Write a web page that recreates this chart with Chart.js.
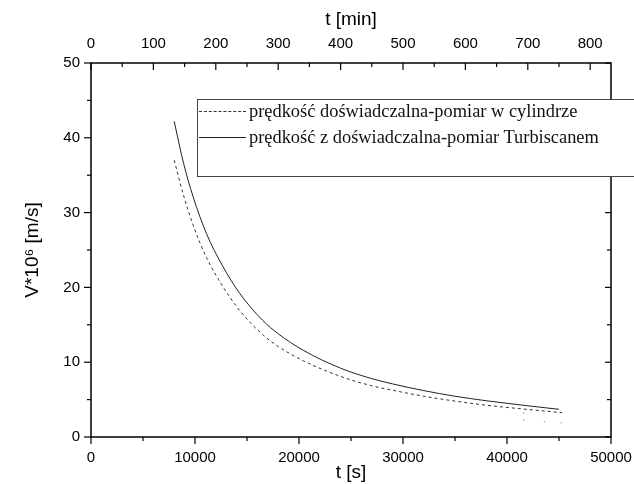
<!DOCTYPE html>
<html><head><meta charset="utf-8">
<script src="https://cdn.jsdelivr.net/npm/chart.js@4.4.0/dist/chart.umd.min.js"></script>
<style>
html,body{margin:0;padding:0;background:#fff;overflow:hidden;}
#wrap{position:relative;width:634px;height:484px;overflow:hidden;}
#legend{position:absolute;left:197px;top:99px;width:470px;height:76px;border:1px solid #444;background:#fff;font-family:"Liberation Serif","Times New Roman",serif;font-size:18.4px;color:#111;}
.row{position:absolute;left:0;height:26px;line-height:26px;white-space:nowrap;}
.sample{position:absolute;left:1px;width:47px;top:13px;height:0;}
.txt{position:absolute;left:51px;top:0;}
</style></head><body>
<div id="wrap"><canvas id="c" width="634" height="484"></canvas>
<div id="legend">
<div class="row" style="top:-2px"><div class="sample" style="border-top:1px dashed #333"></div><span class="txt" id="l1"></span></div>
<div class="row" style="top:24px"><div class="sample" style="border-top:1px solid #222"></div><span class="txt" id="l2"></span></div>
</div></div>
<script>
// ---- data ----
const seriesNames = ["prędkość doświadczalna-pomiar w cylindrze", "prędkość z doświadczalna-pomiar Turbiscanem"];
const tCyl = [8000, 8900, 9800, 11100, 12600, 14300, 16500, 18000, 20400, 24000, 27000, 29000, 32000, 35000, 38000, 41500, 45300];
const vCyl = [37.0, 32.3, 28.4, 24.0, 20.3, 16.9, 13.7, 12.1, 10.2, 8.1, 6.85, 6.25, 5.45, 4.8, 4.25, 3.75, 3.25];
const tTurb = [8000, 8900, 9800, 11100, 12600, 14300, 16500, 18000, 20400, 24000, 27000, 29000, 32000, 35000, 38000, 41500, 45000];
const vTurb = [42.2, 36.6, 32.2, 27.2, 23.0, 19.2, 15.6, 13.8, 11.6, 9.2, 7.8, 7.1, 6.2, 5.45, 4.85, 4.25, 3.7];
const tStray = [41600, 41600, 43600, 45200];
const vStray = [3.2, 2.3, 2.05, 1.9];
const xTicksS = [0, 10000, 20000, 30000, 40000, 50000];
const xMinorS = [5000, 15000, 25000, 35000, 45000];
const xTicksMin = [0, 100, 200, 300, 400, 500, 600, 700, 800];
const xMinorMin = [50, 150, 250, 350, 450, 550, 650, 750];
const yTicks = [0, 10, 20, 30, 40, 50];
const yMinor = [5, 15, 25, 35, 45];

document.getElementById('l1').textContent = seriesNames[0];
document.getElementById('l2').textContent = seriesNames[1];

const pts = (xs, ys) => xs.map((x, i) => ({x: x, y: ys[i]}));
const tickFont = {family: "'Liberation Sans', Arial, sans-serif", size: 15};
const titleFont = {family: "'Liberation Sans', Arial, sans-serif", size: 19};

const framePlugin = {
  id: 'frame',
  afterDatasetsDraw(chart) {
    const {ctx, chartArea: a, scales} = chart;
    ctx.save();
    ctx.strokeStyle = '#000';
    ctx.lineWidth = 1.5;
    ctx.strokeRect(a.left, a.top, a.right - a.left, a.bottom - a.top);
    ctx.lineWidth = 1.2;
    const line = (x1, y1, x2, y2) => { ctx.beginPath(); ctx.moveTo(x1, y1); ctx.lineTo(x2, y2); ctx.stroke(); };
    yTicks.forEach(v => { const y = scales.y.getPixelForValue(v); line(a.left - 7, y, a.left, y); line(a.right, y, a.right - 6, y); });
    yMinor.forEach(v => { const y = scales.y.getPixelForValue(v); line(a.left - 4, y, a.left, y); line(a.right, y, a.right - 4, y); });
    xTicksS.forEach(v => { const x = scales.x.getPixelForValue(v); line(x, a.bottom, x, a.bottom + 7); });
    xMinorS.forEach(v => { const x = scales.x.getPixelForValue(v); line(x, a.bottom, x, a.bottom + 4); });
    xTicksMin.forEach(v => { const x = scales.x2.getPixelForValue(v); line(x, a.top, x, a.top + 7); });
    xMinorMin.forEach(v => { const x = scales.x2.getPixelForValue(v); line(x, a.top, x, a.top + 4); });
    ctx.restore();
  }
};

new Chart(document.getElementById('c'), {
  type: 'scatter',
  data: {
    datasets: [
      {label: seriesNames[0], data: pts(tCyl, vCyl), showLine: true, borderColor: '#333', borderWidth: 1, borderDash: [3, 3], pointRadius: 0, cubicInterpolationMode: 'monotone', xAxisID: 'x', yAxisID: 'y'},
      {label: seriesNames[1], data: pts(tTurb, vTurb), showLine: true, borderColor: '#222', borderWidth: 1, pointRadius: 0, cubicInterpolationMode: 'monotone', xAxisID: 'x', yAxisID: 'y'},
      {label: 'stray', data: pts(tStray, vStray), showLine: false, pointRadius: 0.7, backgroundColor: '#999', borderWidth: 0, xAxisID: 'x', yAxisID: 'y'}
    ]
  },
  options: {
    responsive: false,
    animation: false,
    devicePixelRatio: 1,
    layout: {padding: {left: 0, right: 23, top: 0, bottom: 0}},
    plugins: {legend: {display: false}, tooltip: {enabled: false}},
    scales: {
      x: {
        type: 'linear', position: 'bottom', min: 0, max: 50000,
        afterBuildTicks: s => { s.ticks = xTicksS.map(v => ({value: v})); },
        afterFit: s => { s.height = 47; s.paddingLeft = 0; s.paddingRight = 0; },
        ticks: {font: tickFont, color: '#000', padding: 12, maxRotation: 0, autoSkip: false, callback: v => String(v)},
        grid: {display: false, drawTicks: false}, border: {display: false},
        title: {display: true, text: 't [s]', font: titleFont, color: '#000', padding: {top: 0, bottom: 0}}
      },
      x2: {
        type: 'linear', position: 'top', min: 0, max: 50000 / 60,
        afterBuildTicks: s => { s.ticks = xTicksMin.map(v => ({value: v})); },
        afterFit: s => { s.height = 63; s.paddingLeft = 0; s.paddingRight = 0; },
        ticks: {font: tickFont, color: '#000', padding: 10, maxRotation: 0, autoSkip: false, callback: v => String(v)},
        grid: {display: false, drawTicks: false}, border: {display: false},
        title: {display: true, text: 't [min]', font: titleFont, color: '#000', padding: {top: 8, bottom: 0}}
      },
      y: {
        type: 'linear', position: 'left', min: 0, max: 50,
        afterBuildTicks: s => { s.ticks = yTicks.map(v => ({value: v})); },
        afterFit: s => { s.width = 91; s.paddingTop = 0; s.paddingBottom = 0; },
        ticks: {font: tickFont, color: '#000', padding: 11, autoSkip: false, callback: v => String(v)},
        grid: {display: false, drawTicks: false}, border: {display: false},
        title: {display: true, text: 'V*10\u2076 [m/s]', font: titleFont, color: '#000', padding: {top: 21, bottom: 0}}
      }
    }
  },
  plugins: [framePlugin]
});
</script>
</body></html>
